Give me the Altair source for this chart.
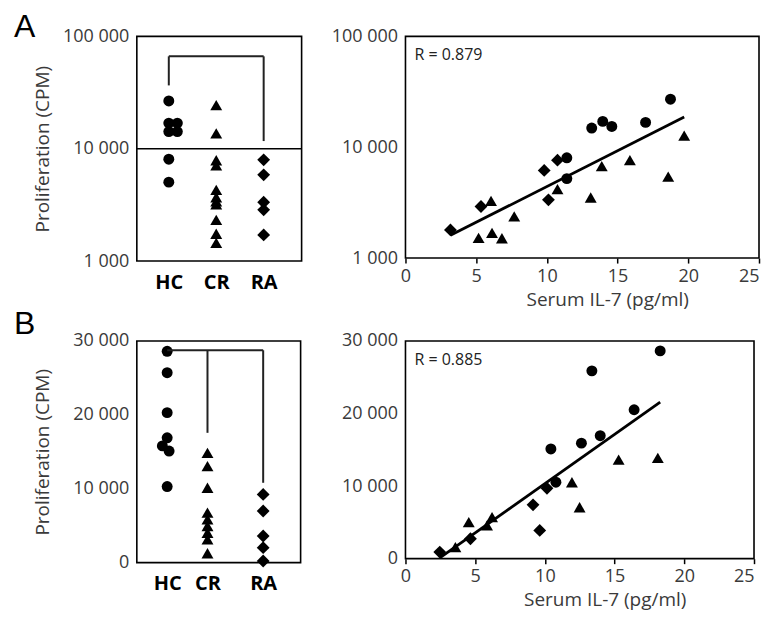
import altair as alt
import pandas as pd

FONT = "Open Sans"
LETTER_FONT = "Liberation Sans"
GROUPS = ["HC", "CR", "RA"]

# ---------------- Panel A (log scale) ----------------
# left: proliferation per group
A_HC = [26600, 16900, 16900, 14200, 14200, 8070, 5040]
A_HC_DX = [0, 0, 0.18, 0, 0.18, 0, 0]
A_CR = [24400, 13700, 7900, 7100, 4300, 3700, 3400, 3200, 2330, 1750, 1450]
A_RA = [7960, 5860, 3340, 2860, 1710]
A_REF_LINE = 10000
A_BRACKET_TOP = 66400
A_BRACKET_LEGS = {"HC": 36600, "RA": 11700}

# right: serum IL-7 vs proliferation
A_HC_IL7 = [11.41, 11.41, 13.17, 13.95, 14.59, 16.98, 18.74]
A_HC_CPM = [5210, 8020, 14900, 17100, 15400, 16750, 27100]
A_CR_IL7 = [5.17, 6.12, 6.82, 6.05, 7.69, 10.75, 13.10, 13.88, 15.87, 18.58, 19.71]
A_CR_CPM = [1520, 1690, 1510, 3280, 2380, 4180, 3520, 6750, 7650, 5420, 12700]
A_RA_IL7 = [3.18, 5.34, 9.81, 10.11, 10.75]
A_RA_CPM = [1795, 2920, 6180, 3350, 7640]
A_R = "R = 0.879"

# ---------------- Panel B (linear scale) ----------------
B_HC = [28600, 25700, 20300, 16900, 15800, 15100, 10300]
B_HC_DX = [0, 0, 0, 0, -0.1, 0.04, 0]
B_CR = [14860, 13070, 10140, 6760, 5860, 4960, 4050, 3160, 1270]
B_RA = [9240, 6990, 3610, 2030, 230]
B_BRACKET_TOP = 28740
B_BRACKET_LEGS = {"CR": 17570, "RA": 10810}

B_HC_IL7 = [10.43, 10.79, 12.62, 13.37, 13.97, 16.40, 18.27]
B_HC_CPM = [15120, 10540, 15920, 25880, 16950, 20520, 28630]
B_CR_IL7 = [3.58, 4.54, 5.85, 6.21, 11.94, 12.49, 15.29, 18.10]
B_CR_CPM = [1590, 5030, 4580, 5720, 10530, 7090, 13650, 13880]
B_RA_IL7 = [2.46, 4.66, 9.15, 9.63, 10.15]
B_RA_CPM = [910, 2750, 7420, 3890, 9700]
B_R = "R = 0.885"

# ---------------- layout / style ----------------
POS_A = {"HC": 1.0, "CR": 2.0, "RA": 3.0}
POS_B = {"HC": 1.0, "CR": 1.84, "RA": 3.0}
SHAPE_RANGE = ["circle", "triangle-up", "diamond"]
SIZE_RANGE = [120, 165, 130]
TXT = "#3a3a3a"
NUM_EXPR = "replace(format(datum.value, ','), ',', ' ')"
CAT_EXPR = ("datum.value < 1.5 ? '%s' : (datum.value < 2.5 ? '%s' : '%s')"
            % tuple(GROUPS))

shape_enc = alt.Shape("group:N", scale=alt.Scale(domain=GROUPS, range=SHAPE_RANGE), legend=None)
size_enc = alt.Size("group:N", scale=alt.Scale(domain=GROUPS, range=SIZE_RANGE), legend=None)


def strip_frame(values, offsets, pos):
    rows = []
    for g in GROUPS:
        offs = offsets.get(g, [0.0] * len(values[g]))
        for v, d in zip(values[g], offs):
            rows.append({"group": g, "pos": pos[g] + d, "cpm": v})
    return pd.DataFrame(rows)


def scatter_frame(il7, cpm):
    rows = []
    for g in GROUPS:
        for x, y in zip(il7[g], cpm[g]):
            rows.append({"group": g, "il7": x, "cpm": y})
    return pd.DataFrame(rows)


def y_axis(values, title):
    kw = dict(values=values, labelExpr=NUM_EXPR, ticks=False,
              domain=False, grid=False, labelFontSize=18, labelColor=TXT,
              labelPadding=8, labelFlush=False, labelOverlap=False,
              labelFont=FONT)
    if title:
        kw.update(title=title, titleFontSize=19, titleColor=TXT, titleFontWeight="normal",
                  titlePadding=10, titleFont=FONT, minExtent=74, maxExtent=74)
    else:
        kw.update(title=None)
    return alt.Axis(**kw)


def letter_layer(letter, y):
    return alt.Chart(pd.DataFrame({"t": [letter]})).mark_text(
        align="left", baseline="alphabetic", fontSize=32, font=LETTER_FONT, color="black"
    ).encode(x=alt.value(-123), y=alt.value(y), text="t:N")


def strip_panel(df, pos, yscale, yvals, xdomain, width, height, segs, letter, letter_y, ref=None):
    x_enc = alt.X("pos:Q", scale=alt.Scale(domain=xdomain, nice=False, zero=False),
                  axis=alt.Axis(values=[pos[g] for g in GROUPS], labelExpr=CAT_EXPR, title=None,
                                ticks=False, domain=False, grid=False, labelFontSize=20,
                                labelFontWeight="bold", labelColor="black", labelPadding=11,
                                labelFlush=False, labelFont=FONT))
    y_enc = alt.Y("cpm:Q", scale=yscale, axis=y_axis(yvals, "Proliferation (CPM)"))
    pts = alt.Chart(df).mark_point(filled=True, color="black", opacity=1).encode(
        x=x_enc, y=y_enc, shape=shape_enc, size=size_enc)
    brk = alt.Chart(segs).mark_rule(color="#222222", strokeWidth=2).encode(
        x="x:Q", x2="x2:Q", y="y:Q", y2="y2:Q")
    layers = [pts, brk]
    if ref is not None:
        layers.append(alt.Chart(pd.DataFrame({"cpm": [ref]})).mark_rule(
            color="black", strokeWidth=1.6).encode(y="cpm:Q"))
    layers.append(letter_layer(letter, letter_y))
    return alt.layer(*layers).properties(width=width, height=height)


def scatter_panel(df, yscale, yvals, width, height, r_text, log):
    x_enc = alt.X("il7:Q", scale=alt.Scale(domain=[0, 25], nice=False),
                  axis=alt.Axis(values=[0, 5, 10, 15, 20, 25], title="Serum IL-7 (pg/ml)",
                                ticks=True, tickSize=5, tickColor="black", tickWidth=1.5,
                                domain=False, grid=False, labelFontSize=18, labelColor=TXT,
                                labelPadding=4,
                                labelAlign={"condition": {"test": "datum.value == 25", "value": "right"},
                                            "value": "center"},
                                labelFlush=False, labelOverlap=False,
                                titleFontSize=19, titleColor=TXT, titleFontWeight="normal",
                                titlePadding=5, titleX=width / 2 + 25, titleAlign="center",
                                labelFont=FONT, titleFont=FONT))
    y_enc = alt.Y("cpm:Q", scale=yscale, axis=y_axis(yvals, None))
    base = alt.Chart(df)
    pts = base.mark_point(filled=True, color="black", opacity=1).encode(
        x=x_enc, y=y_enc, shape=shape_enc, size=size_enc)
    if log:
        line = base.transform_calculate(lcpm="log(datum.cpm) / LN10").transform_regression(
            "il7", "lcpm").transform_calculate(cpm="pow(10, datum.lcpm)")
    else:
        line = base.transform_regression("il7", "cpm")
    line = line.mark_line(color="black", strokeWidth=2.8).encode(x="il7:Q", y="cpm:Q")
    rt = alt.Chart(pd.DataFrame({"t": [r_text]})).mark_text(
        align="left", baseline="middle", fontSize=16, font=FONT, color="#222222"
    ).encode(x=alt.value(9), y=alt.value(19), text="t:N")
    return alt.layer(pts, line, rt).properties(width=width, height=height)


def bracket(top, legs, pos):
    rows = [{"x": pos[GROUPS[0]], "x2": pos[GROUPS[-1]], "y": top, "y2": top}]
    for g, end in legs.items():
        rows.append({"x": pos[g], "x2": pos[g], "y": top, "y2": end})
    return pd.DataFrame(rows)


log_scale = alt.Scale(type="log", domain=[1000, 100000], nice=False)
lin_scale = alt.Scale(domain=[0, 30000], nice=False)

a_left = strip_panel(
    strip_frame({"HC": A_HC, "CR": A_CR, "RA": A_RA}, {"HC": A_HC_DX}, POS_A),
    POS_A, log_scale, [1000, 10000, 100000], [0.326, 3.8], 165, 225,
    bracket(A_BRACKET_TOP, A_BRACKET_LEGS, POS_A), "A", 1, ref=A_REF_LINE)

a_right = scatter_panel(
    scatter_frame({"HC": A_HC_IL7, "CR": A_CR_IL7, "RA": A_RA_IL7},
                  {"HC": A_HC_CPM, "CR": A_CR_CPM, "RA": A_RA_CPM}),
    log_scale, [1000, 10000, 100000], 354, 222, A_R, True)

b_left = strip_panel(
    strip_frame({"HC": B_HC, "CR": B_CR, "RA": B_RA}, {"HC": B_HC_DX}, POS_B),
    POS_B, lin_scale, [0, 10000, 20000, 30000], [0.368, 3.78], 164, 222,
    bracket(B_BRACKET_TOP, B_BRACKET_LEGS, POS_B), "B", -7)

b_right = scatter_panel(
    scatter_frame({"HC": B_HC_IL7, "CR": B_CR_IL7, "RA": B_RA_IL7},
                  {"HC": B_HC_CPM, "CR": B_CR_CPM, "RA": B_RA_CPM}),
    lin_scale, [0, 10000, 20000, 30000], 349, 218, B_R, False)

chart = alt.concat(
    a_left, a_right, b_left, b_right, columns=2,
    spacing={"row": 80, "column": 104}, bounds="flush"
).properties(
    padding={"left": 5, "top": 2, "right": 2, "bottom": 0},
    background="white"
).resolve_scale(
    x="independent", y="independent", shape="shared", size="shared"
).configure_view(
    stroke="black", strokeWidth=1.6
)

chart.save("out.html", embed_options={"renderer": "svg", "actions": False})
